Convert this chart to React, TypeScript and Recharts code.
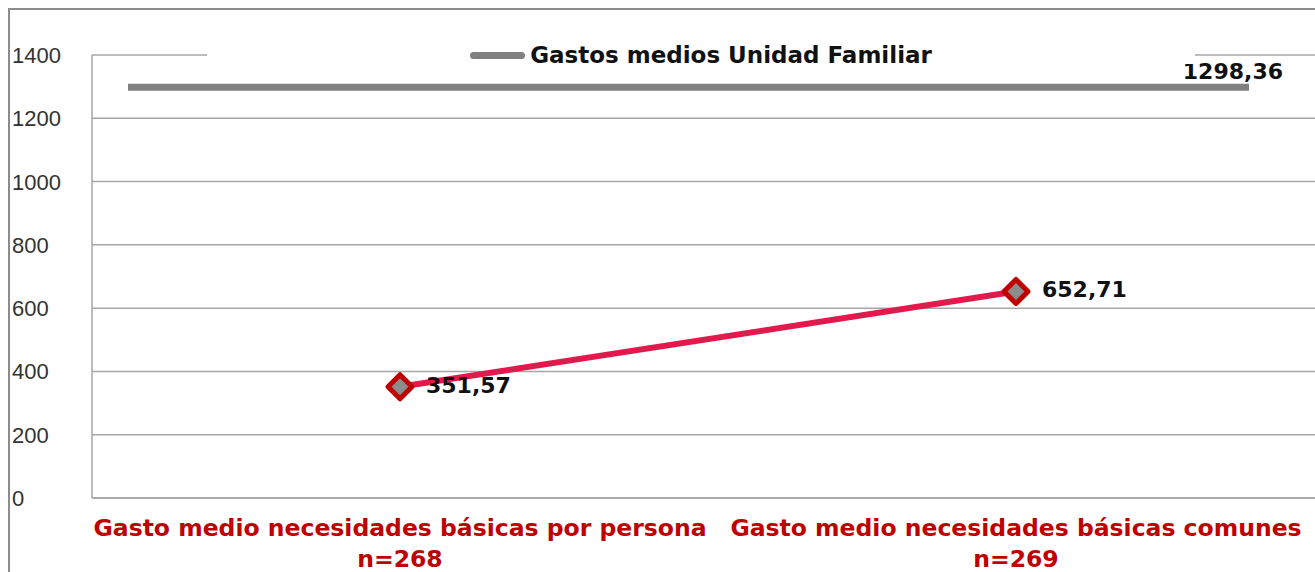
import React from "react"
import { LineChart, Line, XAxis, YAxis, CartesianGrid, ReferenceLine, Legend, LabelList } from "recharts"

const categories = ["Gasto medio necesidades básicas por persona", "Gasto medio necesidades básicas comunes"]
const sampleSizes = ["n=268", "n=269"]
const basicExpenses = [351.57, 652.71]
const familyMean = 1298.36
const familyLabel = "Gastos medios Unidad Familiar"
const yTicks = [0, 200, 400, 600, 800, 1000, 1200, 1400]

const data = categories.map((category, i) => ({
  category,
  n: sampleSizes[i],
  value: basicExpenses[i],
}))

const boldFont = "'DejaVu Sans', sans-serif"
const fmt = (v: number) => v.toFixed(2).replace(".", ",")

function YTick({ y, payload }: any) {
  return (
    <text x={2} y={y + 8} fontFamily="'Liberation Sans', sans-serif" fontSize={22} fill="#333">
      {payload.value}
    </text>
  )
}

function CategoryTick({ x, y, payload, index }: any) {
  return (
    <g>
      <text x={x} y={y + 30} textAnchor="middle" fontFamily={boldFont} fontWeight="bold" fontSize={23.5} fill="#c00000">
        {payload.value}
      </text>
      <text x={x} y={y + 61} textAnchor="middle" fontFamily={boldFont} fontWeight="bold" fontSize={23.5} fill="#c00000">
        {sampleSizes[index]}
      </text>
    </g>
  )
}

function Diamond({ cx, cy, index }: any) {
  const r = 12
  return (
    <path
      key={`dot-${index}`}
      d={`M${cx},${cy - r}L${cx + r},${cy}L${cx},${cy + r}L${cx - r},${cy}Z`}
      fill="#8c8c8c"
      stroke="#c00000"
      strokeWidth={5}
      strokeLinejoin="round"
    />
  )
}

function PointLabel({ x, y, value }: any) {
  return (
    <text x={x + 26} y={y + 6} fontFamily={boldFont} fontWeight="bold" fontSize={22} fill="#111">
      {fmt(value)}
    </text>
  )
}

function FamilyLine({ x1, x2, y1 }: any) {
  return (
    <g>
      <line x1={x1 + 36} x2={x2 - 75} y1={y1} y2={y1} stroke="#808080" strokeWidth={7} />
      <text x={x2 - 41} y={y1 - 8} textAnchor="end" fontFamily={boldFont} fontWeight="bold" fontSize={22} fill="#111">
        {fmt(familyMean)}
      </text>
    </g>
  )
}

function LegendBox() {
  return (
    <div style={{ display: "flex", alignItems: "center", justifyContent: "center", height: "100%", background: "#fff" }}>
      <div style={{ width: 55, height: 7, background: "#808080", borderRadius: 4 }} />
      <span style={{ marginLeft: 5, fontFamily: boldFont, fontWeight: "bold", fontSize: 23, color: "#111", lineHeight: "18px", whiteSpace: "nowrap" }}>
        {familyLabel}
      </span>
    </div>
  )
}

export default function App() {
  return (
    <div
      style={{
        position: "fixed",
        left: 8,
        top: 8,
        width: 1307,
        height: 564,
        overflow: "hidden",
        borderTop: "2px solid #8c8c8c",
        borderLeft: "2px solid #8c8c8c",
        background: "#fff",
      }}
    >
      <LineChart width={1328} height={568} data={data} margin={{ top: 45, right: 14, bottom: 0, left: 0 }}>
        <CartesianGrid vertical={false} stroke="#a6a6a6" strokeWidth={1.5} />
        <XAxis
          dataKey="category"
          scale="band"
          height={80}
          axisLine={{ stroke: "#a6a6a6", strokeWidth: 1.5 }}
          tickLine={false}
          tick={<CategoryTick />}
          interval={0}
        />
        <YAxis
          domain={[0, 1400]}
          ticks={yTicks}
          width={82}
          axisLine={{ stroke: "#a6a6a6", strokeWidth: 1.5 }}
          tickLine={false}
          tick={<YTick />}
        />
        <ReferenceLine y={familyMean} shape={<FamilyLine />} />
        <Legend
          layout="horizontal"
          verticalAlign="middle"
          align="center"
          content={<LegendBox />}
          wrapperStyle={{ top: 36, left: 197, width: 988, height: 18 }}
        />
        <Line
          dataKey="value"
          name="Gasto medio"
          stroke="#e2194c"
          strokeWidth={6}
          dot={<Diamond />}
          activeDot={false}
          isAnimationActive={false}
        >
          <LabelList dataKey="value" content={<PointLabel />} />
        </Line>
      </LineChart>
    </div>
  )
}
